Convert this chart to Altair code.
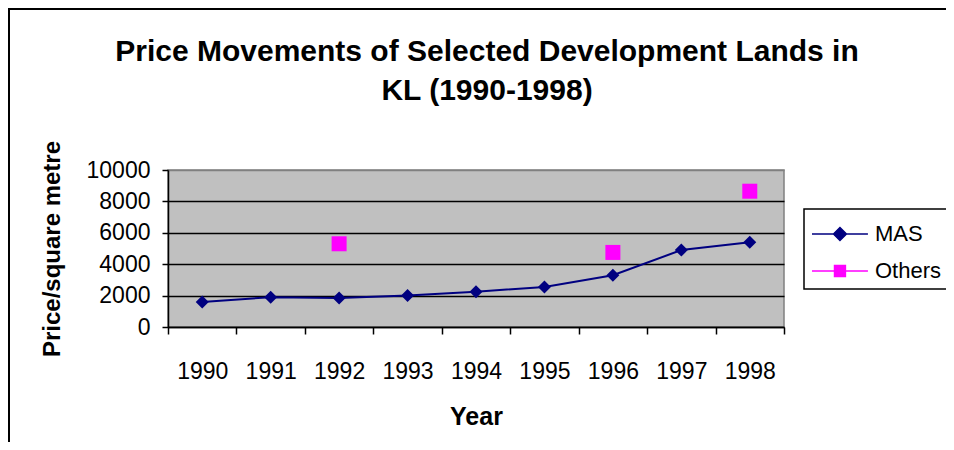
import altair as alt
import pandas as pd

# ---- data ----
years = ["1990", "1991", "1992", "1993", "1994", "1995", "1996", "1997", "1998"]
mas_values = [1600, 1900, 1850, 2000, 2250, 2550, 3300, 4900, 5400]
others_years = ["1992", "1996", "1998"]
others_values = [5300, 4750, 8650]
series_names = ["MAS", "Others"]
series_colors = ["#000080", "#FF00FF"]
y_ticks = [0, 2000, 4000, 6000, 8000, 10000]
title_lines = ["Price Movements of Selected Development Lands in", "KL (1990-1998)"]

# legend glyphs: a line with a marker on it (Excel style)
legend_shapes = [
    "M-1,0H2.29M0.645,-0.38L1.025,0L0.645,0.38L0.265,0Z",
    "M-1,0H2.29M0.325,-0.32H0.965V0.32H0.325Z",
]

mas_df = pd.DataFrame({"Year": years, "Price": mas_values, "Series": "MAS"})
oth_df = pd.DataFrame({"Year": others_years, "Price": others_values, "Series": "Others"})
all_df = pd.concat([mas_df, oth_df], ignore_index=True)

FONT = "Arial, Liberation Sans, sans-serif"
W, H = 616, 157

x_enc = alt.X(
    "Year:N",
    sort=years,
    scale=alt.Scale(domain=years, paddingInner=0, paddingOuter=0),
    axis=alt.Axis(
        title="Year",
        labelAngle=0,
        tickBand="extent",
        tickSize=7,
        tickColor="black",
        tickWidth=1.5,
        domainColor="black",
        domainWidth=1.5,
        labelFontSize=23,
        labelPadding=26,
        labelColor="black",
        labelFont=FONT,
        titleFont=FONT,
        titleFontSize=25,
        titleFontWeight="bold",
        titleColor="black",
        titlePadding=21,
        grid=False,
    ),
)
y_enc = alt.Y(
    "Price:Q",
    scale=alt.Scale(domain=[0, 10000], nice=False),
    axis=alt.Axis(
        title="Price/square metre",
        values=y_ticks,
        format="d",
        tickSize=6,
        tickColor="black",
        tickWidth=1.5,
        domainColor="black",
        domainWidth=1.5,
        labelFontSize=23,
        labelPadding=12,
        labelColor="black",
        labelFont=FONT,
        titleFont=FONT,
        titleFontSize=24,
        titleFontWeight="bold",
        titleColor="black",
        titlePadding=22,
        grid=True,
        gridColor=alt.condition("datum.value === 10000", alt.value("#808080"), alt.value("black")),
        gridWidth=1.5,
        gridOpacity=1,
    ),
)

frame = alt.Chart(pd.DataFrame({"a": [0]})).mark_rect(
    fill="transparent", stroke="black", strokeWidth=2
).encode(
    x=alt.value(-159), x2=alt.value(1000), y=alt.value(-161), y2=alt.value(600)
)

line = alt.Chart(mas_df).mark_line(color="#000080", strokeWidth=2).encode(x=x_enc, y=y_enc)
mas_pts = alt.Chart(mas_df).mark_point(
    shape="diamond", filled=True, size=169, color="#000080", opacity=1
).encode(x=x_enc, y=y_enc)
oth_pts = alt.Chart(oth_df).mark_point(
    shape="square", filled=True, size=225, color="#FF00FF", opacity=1
).encode(x=x_enc, y=y_enc)

leg = alt.Legend(title=None, orient="none", legendX=636, legendY=39)
legend_layer = (
    alt.Chart(all_df)
    .transform_filter("datum.Price < 0")
    .mark_point(filled=True, opacity=1, strokeWidth=1.5)
    .encode(
        x=x_enc,
        y=y_enc,
        fill=alt.Fill("Series:N", scale=alt.Scale(domain=series_names, range=series_colors), legend=leg),
        stroke=alt.Stroke("Series:N", scale=alt.Scale(domain=series_names, range=series_colors), legend=leg),
        shape=alt.Shape("Series:N", scale=alt.Scale(domain=series_names, range=legend_shapes), legend=leg),
    )
)

chart = (
    alt.layer(frame, line, mas_pts, oth_pts, legend_layer)
    .properties(
        width=W,
        height=H,
        title=alt.Title(
            text=title_lines,
            font=FONT,
            fontSize=30,
            fontWeight="bold",
            color="black",
            anchor="middle",
            lineHeight=39,
            offset=0,
            dx=11,
            dy=98,
        ),
        autosize=alt.AutoSizeParams(type="none"),
        padding={"left": 160, "top": 162, "right": 162, "bottom": 115},
    )
    .configure_view(fill="#C0C0C0", stroke="#808080", strokeWidth=1.5)
    .configure_legend(
        strokeColor="black",
        strokeWidth=1.5,
        fillColor="white",
        padding=7,
        symbolSize=1156,
        symbolStrokeWidth=1.5,
        labelFont=FONT,
        labelFontSize=22,
        labelColor="black",
        labelOffset=28,
        rowPadding=8,
        cornerRadius=0,
    )
)

chart.save("out.html", embed_options={"renderer": "svg", "actions": False})
